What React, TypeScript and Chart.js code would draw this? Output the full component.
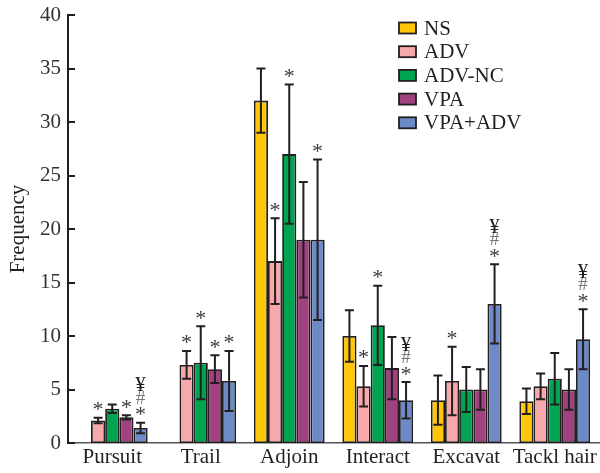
import React, { useEffect, useRef } from "react";
import { Chart, registerables } from "chart.js";

Chart.register(...registerables);

const categories = ["Pursuit", "Trail", "Adjoin", "Interact", "Excavat", "Tackl hair"];
const seriesNames = ["NS", "ADV", "ADV-NC", "VPA", "VPA+ADV"];
const seriesColors = ["#FFC60A", "#F6A8AA", "#00A350", "#A0427F", "#6C8AC6"];

const nsValues = [null, null, 32.0, 10.0, 4.0, 3.9];
const advValues = [2.1, 7.3, 17.0, 5.3, 5.8, 5.3];
const advNcValues = [3.2, 7.5, 27.0, 11.0, 5.0, 6.0];
const vpaValues = [2.4, 6.9, 19.0, 7.0, 5.0, 5.0];
const vpaAdvValues = [1.4, 5.8, 19.0, 4.0, 13.0, 9.7];

const nsErrors = [0, 0, 3.0, 2.4, 2.3, 1.2];
const advErrors = [0.25, 1.3, 4.0, 1.9, 3.2, 1.2];
const advNcErrors = [0.4, 3.4, 6.5, 3.7, 2.1, 2.4];
const vpaErrors = [0.2, 1.3, 5.4, 2.9, 1.9, 1.9];
const vpaAdvErrors = [0.5, 2.8, 7.5, 1.7, 3.7, 2.8];

const nsMarks = ["", "", "", "", "", ""];
const advMarks = ["*", "*", "*", "*", "*", ""];
const advNcMarks = ["", "*", "*", "*", "", ""];
const vpaMarks = ["*", "*", "", "", "", ""];
const vpaAdvMarks = ["*#¥", "*", "*", "*#¥", "*#¥", "*#¥"];

const yTicks = [0, 5, 10, 15, 20, 25, 30, 35, 40];

const FONT = "'Liberation Serif', 'Times New Roman', serif";
const INK = "#231f20";

export default function App() {
  const ref = useRef<HTMLCanvasElement | null>(null);

  useEffect(() => {
    if (!ref.current) return;
    const values = [nsValues, advValues, advNcValues, vpaValues, vpaAdvValues];
    const errors = [nsErrors, advErrors, advNcErrors, vpaErrors, vpaAdvErrors];
    const marks = [nsMarks, advMarks, advNcMarks, vpaMarks, vpaAdvMarks];

    const extras = {
      id: "extras",
      afterDatasetsDraw(chart: any) {
        const ctx = chart.ctx;
        const y = chart.scales.y;
        ctx.save();
        // inward y ticks
        ctx.strokeStyle = INK;
        ctx.lineWidth = 2;
        yTicks.forEach((t) => {
          const py = Math.round(y.getPixelForValue(t));
          ctx.beginPath();
          ctx.moveTo(chart.chartArea.left, py);
          ctx.lineTo(chart.chartArea.left + 7, py);
          ctx.stroke();
        });
        // error bars + marks
        values.forEach((vals, i) => {
          const meta = chart.getDatasetMeta(i);
          meta.data.forEach((el: any, j: number) => {
            const v = vals[j];
            if (v === null || v === undefined) return;
            const e = errors[i][j];
            const x = el.x;
            const yt = y.getPixelForValue(v + e);
            const yb = y.getPixelForValue(v - e);
            if (e > 0) {
              ctx.strokeStyle = INK;
              ctx.lineWidth = 2;
              ctx.beginPath();
              ctx.moveTo(x, yt);
              ctx.lineTo(x, yb);
              ctx.moveTo(x - 4.5, yt);
              ctx.lineTo(x + 4.5, yt);
              ctx.moveTo(x - 4.5, yb);
              ctx.lineTo(x + 4.5, yb);
              ctx.stroke();
            }
            const m = marks[i][j];
            const top = e > 0 ? yt : y.getPixelForValue(v);
            for (let k = 0; k < m.length; k++) {
              const ch = m[k];
              const cy = top - 12.5 - k * 13;
              ctx.textAlign = "center";
              ctx.textBaseline = "alphabetic";
              if (ch === "*") {
                ctx.fillStyle = "#3a3a3a";
                ctx.font = `22px ${FONT}`;
                ctx.fillText("*", x, cy + 11);
              } else if (ch === "#") {
                ctx.fillStyle = "#777";
                ctx.font = `19px ${FONT}`;
                ctx.fillText("#", x, cy + 6.5);
              } else {
                ctx.fillStyle = INK;
                ctx.font = `21px ${FONT}`;
                ctx.fillText(ch, x, cy + 7);
              }
            }
          });
        });
        // legend
        ctx.font = `21px ${FONT}`;
        ctx.textAlign = "left";
        ctx.textBaseline = "middle";
        seriesNames.forEach((name, i) => {
          const cy = 28 + i * 23.7;
          ctx.fillStyle = seriesColors[i];
          ctx.fillRect(399, cy - 5.5, 17, 11);
          ctx.strokeStyle = INK;
          ctx.lineWidth = 1.8;
          ctx.strokeRect(399, cy - 5.5, 17, 11);
          ctx.fillStyle = INK;
          ctx.fillText(name, 424, cy + 1);
        });
        ctx.restore();
      },
    };

    const chart = new Chart(ref.current, {
      type: "bar",
      data: {
        labels: categories,
        datasets: seriesNames.map((name, i) => ({
          label: name,
          data: values[i] as any,
          backgroundColor: seriesColors[i],
          borderColor: INK,
          borderWidth: 1.8,
          borderSkipped: false,
          categoryPercentage: 0.8,
          barPercentage: 1.0,
        })),
      },
      options: {
        animation: false,
        responsive: false,
        maintainAspectRatio: false,
        layout: { padding: { top: 15, right: 1, left: 0, bottom: 0 } },
        plugins: { legend: { display: false }, tooltip: { enabled: false } },
        scales: {
          x: {
            grid: { display: false, drawTicks: false },
            border: { display: true, color: "#555", width: 1.5 },
            ticks: { color: INK, font: { family: FONT, size: 21 }, padding: 2, maxRotation: 0, autoSkip: false },
            afterFit(s: any) {
              s.height = 30;
              s.paddingLeft = 0;
              s.paddingRight = 0;
            },
          },
          y: {
            min: 0,
            max: 40,
            grid: { display: false, drawTicks: false },
            border: { display: true, color: INK, width: 2 },
            ticks: { stepSize: 5, color: "#333", font: { family: FONT, size: 21 }, padding: 7 },
            title: { display: true, text: "Frequency", color: INK, font: { family: FONT, size: 21 }, padding: { top: 6, bottom: 0 } },
            afterFit(s: any) {
              s.width = 68;
              s.paddingTop = 0;
              s.paddingBottom = 0;
            },
          },
        },
      },
      plugins: [extras],
    });
    return () => chart.destroy();
  }, []);

  return (
    <div style={{ position: "fixed", left: 0, top: 0, width: 600, height: 473, background: "#fff" }}>
      <canvas ref={ref} width={600} height={473} style={{ width: 600, height: 473, display: "block" }} />
    </div>
  );
}
